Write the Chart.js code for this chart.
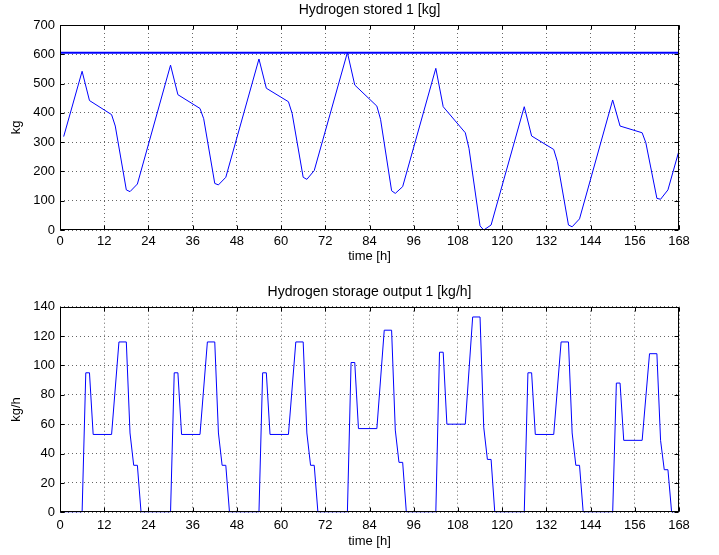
<!DOCTYPE html>
<html lang="en">
<head>
  <meta charset="UTF-8">
  <title>Hydrogen storage</title>
  <style>
    body { margin: 0; background: #fff; }
    .plot { position: absolute; left: 0; }
    #storedBox { top: 0; }
    #outputBox { top: 277px; }
  </style>
  <script src="https://cdn.jsdelivr.net/npm/chart.js"></script>
</head>
<body>
  <div class="plot" id="storedBox"><canvas id="storedChart" width="719" height="277"></canvas></div>
  <div class="plot" id="outputBox"><canvas id="outputChart" width="719" height="278"></canvas></div>

  <script>
    // Hydrogen stored 1 [kg] - vertices of the line (hour, kg)
    const storedHours = [1, 6, 8, 14, 15, 18, 19, 21, 30, 32, 38, 39, 42, 43, 45, 54, 56, 62, 63, 66, 67, 69,
      78, 80, 86, 87, 90, 91, 93, 102, 104, 110, 111, 114, 115, 117, 126, 128, 134, 135, 138, 139, 141,
      150, 152, 158, 159, 162, 163, 165, 168];
    const storedKg = [319, 542, 442, 394, 355, 137, 131, 157, 563, 462, 415, 380, 159, 154, 180, 584, 484, 438, 398, 180, 173, 203,
      606, 495, 423, 378, 134, 125, 148, 552, 421, 332, 279, 14, 0, 17, 421, 321, 275, 233, 17, 11, 38,
      444, 355, 332, 298, 108, 105, 137, 271];
    // storage capacity line
    const capacityHours = [0, 168];
    const capacityKg = [605, 605];

    // Hydrogen storage output 1 [kg/h]
    const outputHours = [0, 6, 7, 8, 9, 14, 16, 18, 19, 20, 21, 22,
      30, 31, 32, 33, 38, 40, 42, 43, 44, 45, 46,
      54, 55, 56, 57, 62, 64, 66, 67, 68, 69, 70,
      78, 79, 80, 81, 86, 88, 90, 91, 92, 93, 94,
      102, 103, 104, 105, 110, 112, 114, 115, 116, 117, 118,
      126, 127, 128, 129, 134, 136, 138, 139, 140, 141, 142,
      150, 151, 152, 153, 158, 160, 162, 163, 164, 165, 166, 168];
    const outputKgh = [0, 0, 95, 95, 53, 53, 116, 116, 54, 32, 32, 0,
      0, 95, 95, 53, 53, 116, 116, 54, 32, 32, 0,
      0, 95, 95, 53, 53, 116, 116, 54, 32, 32, 0,
      0, 102, 102, 57, 57, 124, 124, 56, 34, 34, 0,
      0, 109, 109, 60, 60, 133, 133, 58, 36, 36, 0,
      0, 95, 95, 53, 53, 116, 116, 54, 32, 32, 0,
      0, 88, 88, 49, 49, 108, 108, 49, 29, 29, 0, 0];

    const FONT = { family: "'Liberation Sans', Arial, sans-serif", size: 13 };
    const TITLE_FONT = { family: "'Liberation Sans', Arial, sans-serif", size: 14, weight: 'normal' };
    const BLUE = 'rgb(0,0,255)';

    const toPoints = (xs, ys) => xs.map((x, i) => ({ x: x, y: ys[i] }));

    // black box round the plot area with small inward ticks (matlab style)
    const boxPlugin = {
      id: 'box',
      afterDraw(chart) {
        const { ctx, chartArea: a, scales } = chart;
        const L = Math.round(a.left) + 0.5, R = Math.round(a.right) - 0.5;
        const T = Math.round(a.top) + 0.5, B = Math.round(a.bottom) - 0.5;
        ctx.save();
        ctx.strokeStyle = '#000';
        ctx.lineWidth = 1;
        ctx.beginPath();
        scales.x.ticks.forEach(t => {
          const px = Math.round(scales.x.getPixelForValue(t.value)) + 0.5;
          ctx.moveTo(px, B); ctx.lineTo(px, B - 4);
          ctx.moveTo(px, T); ctx.lineTo(px, T + 4);
        });
        scales.y.ticks.forEach(t => {
          const py = Math.round(scales.y.getPixelForValue(t.value)) + 0.5;
          ctx.moveTo(L, py); ctx.lineTo(L + 4, py);
          ctx.moveTo(R, py); ctx.lineTo(R - 4, py);
        });
        ctx.stroke();
        ctx.strokeRect(L, T, R - L, B - T);
        ctx.restore();
      }
    };

    function makeOptions(cfg) {
      return {
        responsive: false,
        animation: false,
        layout: { padding: { left: 0, right: 40, top: 0, bottom: 0 } },
        plugins: {
          legend: { display: false },
          tooltip: { enabled: false },
          title: {
            display: true,
            text: cfg.title,
            fullSize: false,
            color: '#000',
            font: TITLE_FONT,
            padding: cfg.titlePad
          }
        },
        scales: {
          x: {
            type: 'linear',
            min: 0,
            max: 168,
            afterFit: s => { s.height = cfg.xHeight; },
            ticks: { stepSize: 12, maxTicksLimit: 20, color: '#000', font: FONT, padding: cfg.xTickPad, maxRotation: 0 },
            grid: { color: '#666', drawTicks: false },
            border: { display: false, dash: [1, 3] },
            title: { display: true, text: 'time [h]', color: '#000', font: FONT, padding: { top: 0, bottom: cfg.xTitlePad } }
          },
          y: {
            min: 0,
            max: cfg.yMax,
            afterFit: s => { s.width = 60; },
            ticks: { stepSize: cfg.yStep, color: '#000', font: FONT, padding: 5 },
            grid: { color: '#666', drawTicks: false },
            border: { display: false, dash: [1, 3] },
            title: { display: true, text: cfg.yTitle, color: '#000', font: FONT, padding: { top: 9, bottom: 0 } }
          }
        }
      };
    }

    new Chart(document.getElementById('storedChart'), {
      type: 'line',
      data: {
        datasets: [
          { data: toPoints(storedHours, storedKg), borderColor: BLUE, borderWidth: 1, pointRadius: 0, tension: 0 },
          { data: toPoints(capacityHours, capacityKg), borderColor: BLUE, borderWidth: 2, pointRadius: 0, tension: 0 }
        ]
      },
      options: makeOptions({
        title: 'Hydrogen stored 1 [kg]',
        titlePad: { top: 1.6, bottom: 6.6 },
        xHeight: 47, xTickPad: 4, xTitlePad: 13,
        yMax: 700, yStep: 100, yTitle: 'kg'
      }),
      plugins: [boxPlugin]
    });

    new Chart(document.getElementById('outputChart'), {
      type: 'line',
      data: {
        datasets: [
          { data: toPoints(outputHours, outputKgh), borderColor: BLUE, borderWidth: 1, pointRadius: 0, tension: 0 }
        ]
      },
      options: makeOptions({
        title: 'Hydrogen storage output 1 [kg/h]',
        titlePad: { top: 7, bottom: 5.9 },
        xHeight: 42.7, xTickPad: 5, xTitlePad: 6,
        yMax: 140, yStep: 20, yTitle: 'kg/h'
      }),
      plugins: [boxPlugin]
    });
  </script>
</body>
</html>
